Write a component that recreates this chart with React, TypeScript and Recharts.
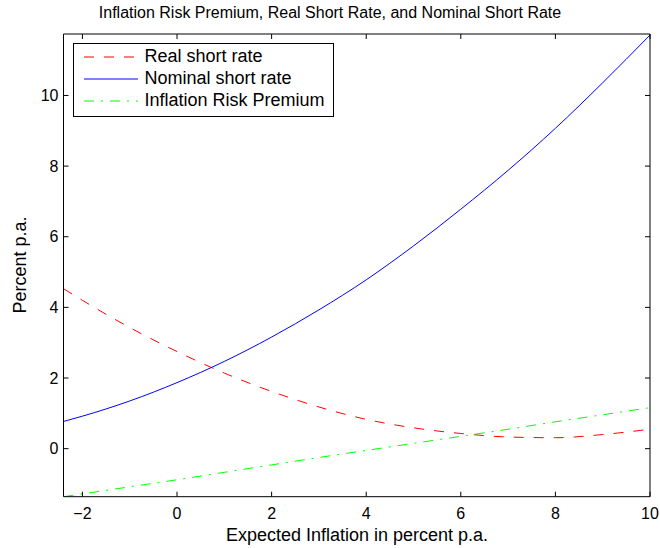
import React from 'react'
import { LineChart, Line, XAxis, YAxis, Legend } from 'recharts'

const font = '"Liberation Sans", Arial, Helvetica, sans-serif'

// values
const expectedInflation = [-2.4, -2, -1, 0, 1, 2, 3, 4, 5, 6, 7, 8, 9, 10]
const realShortRate = [4.53, 4.2, 3.43, 2.75, 2.14, 1.62, 1.18, 0.83, 0.59, 0.43, 0.33, 0.31, 0.4, 0.55]
const nominalShortRate = [0.77, 0.92, 1.35, 1.87, 2.47, 3.16, 3.93, 4.78, 5.74, 6.78, 7.88, 9.07, 10.36, 11.71]
const inflationRiskPremium = [-1.36, -1.28, -1.08, -0.88, -0.67, -0.46, -0.25, -0.05, 0.15, 0.35, 0.55, 0.76, 0.96, 1.16]

const xTicks = [-2, 0, 2, 4, 6, 8, 10]
const yTicks = [0, 2, 4, 6, 8, 10]

const series = [
  { key: 'real', label: 'Real short rate', color: '#ff0000', dash: '10 10' },
  { key: 'nominal', label: 'Nominal short rate', color: '#0000ff', dash: undefined },
  { key: 'irp', label: 'Inflation Risk Premium', color: '#00ff00', dash: '10 7 2 7' },
]

const rows = expectedInflation.map((x, i) => ({
  x,
  real: realShortRate[i],
  nominal: nominalShortRate[i],
  irp: inflationRiskPremium[i],
}))

const fmt = (v: number) => (v < 0 ? '\u2212' + Math.abs(v) : String(v))

function LegendBox() {
  return (
    <div
      style={{
        border: '1px solid #000',
        background: '#fff',
        padding: '2px 8px 4px 10px',
        fontFamily: font,
        fontSize: 18,
        color: '#000',
      }}
    >
      {series.map((s) => (
        <div key={s.key} style={{ display: 'flex', alignItems: 'center', height: 22 }}>
          <svg width={54} height={10}>
            <line x1={0} y1={5} x2={54} y2={5} stroke={s.color} strokeWidth={1} strokeDasharray={s.dash} />
          </svg>
          <span style={{ marginLeft: 7, whiteSpace: 'nowrap' }}>{s.label}</span>
        </div>
      ))}
    </div>
  )
}

export default function App() {
  return (
    <div style={{ position: 'absolute', left: 0, top: 0, width: 660, height: 548, background: '#fff' }}>
      <div
        style={{
          position: 'absolute',
          top: 4,
          left: 0,
          width: 660,
          textAlign: 'center',
          fontFamily: font,
          fontSize: 16,
          color: '#000',
        }}
      >
        Inflation Risk Premium, Real Short Rate, and Nominal Short Rate
      </div>
      <LineChart width={660} height={548} data={rows} margin={{ top: 33, right: 9, bottom: 0, left: 0 }}>
        <XAxis
          xAxisId="b"
          dataKey="x"
          type="number"
          domain={[-2.4, 10]}
          ticks={xTicks}
          allowDataOverflow
          height={51.3}
          stroke="#000"
          tickSize={-5}
          tickMargin={16}
          tick={{ fill: '#000', fontSize: 16, fontFamily: font }}
          tickFormatter={fmt}
          label={{
            content: () => (
              <text x={357} y={541} textAnchor="middle" fontSize={18} fontFamily={font} fill="#000">
                Expected Inflation in percent p.a.
              </text>
            ),
          }}
        />
        <XAxis
          xAxisId="t"
          orientation="top"
          dataKey="x"
          type="number"
          domain={[-2.4, 10]}
          ticks={xTicks}
          allowDataOverflow
          height={1}
          stroke="#000"
          tickSize={-5}
          tickFormatter={() => ''}
        />
        <YAxis
          yAxisId="l"
          type="number"
          domain={[-1.36, 11.74]}
          ticks={yTicks}
          allowDataOverflow
          width={63.5}
          stroke="#000"
          tickSize={-5}
          tickMargin={10}
          tick={{ fill: '#000', fontSize: 16, fontFamily: font }}
          label={{
            content: () => (
              <text
                x={26}
                y={265}
                transform="rotate(-90 26 265)"
                textAnchor="middle"
                fontSize={18}
                fontFamily={font}
                fill="#000"
              >
                Percent p.a.
              </text>
            ),
          }}
        />
        <YAxis
          yAxisId="r"
          orientation="right"
          type="number"
          domain={[-1.36, 11.74]}
          ticks={yTicks}
          allowDataOverflow
          width={1}
          stroke="#000"
          tickSize={-5}
          tickFormatter={() => ''}
        />
        {series.map((s) => (
          <Line
            key={s.key}
            xAxisId="b"
            yAxisId="l"
            type="monotone"
            dataKey={s.key}
            name={s.label}
            stroke={s.color}
            strokeWidth={1}
            strokeDasharray={s.dash}
            dot={false}
            activeDot={false}
            isAnimationActive={false}
          />
        ))}
        <Legend
          layout="horizontal"
          verticalAlign="middle"
          align="center"
          content={() => <LegendBox />}
          wrapperStyle={{ left: 72.5, top: 42.5, width: 'auto', height: 'auto' }}
        />
      </LineChart>
    </div>
  )
}
